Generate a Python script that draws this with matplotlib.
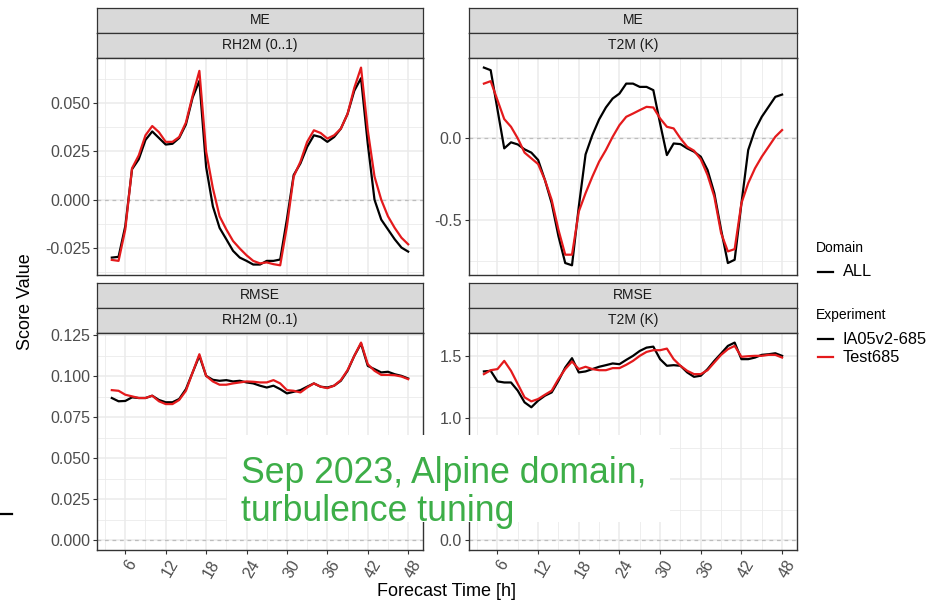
import matplotlib
matplotlib.use("Agg")
import matplotlib.pyplot as plt
from matplotlib.patches import Rectangle
from matplotlib.lines import Line2D
import matplotlib.transforms as mtransforms

plt.rcParams['font.family'] = ['Liberation Sans', 'DejaVu Sans']
plt.rcParams['axes.unicode_minus'] = False

# lead times [h]
lead_time = [4, 5, 6, 7, 8, 9, 10, 11, 12, 13, 14, 15, 16, 17, 18, 19, 20, 21, 22, 23, 24, 25,
             26, 27, 28, 29, 30, 31, 32, 33, 34, 35, 36, 37, 38, 39, 40, 41, 42, 43, 44, 45,
             46, 47, 48]
experiments = ["IA05v2-685", "Test685"]

# ME RH2M
me_rh2m_ia = [-0.0300, -0.0296, -0.0137, 0.0158, 0.0210, 0.0310, 0.0354, 0.0320, 0.0286,
              0.0290, 0.0320, 0.0390, 0.0530, 0.0616, 0.0170, -0.0034, -0.0146, -0.0205,
              -0.0265, -0.0300, -0.0317, -0.0336, -0.0336, -0.0317, -0.0317, -0.0310,
              -0.0100, 0.0128, 0.0188, 0.0274, 0.0334, 0.0325, 0.0300, 0.0325, 0.0368,
              0.0445, 0.0565, 0.0630, 0.0290, 0.0000, -0.0103, -0.0154, -0.0205, -0.0248,
              -0.0269]
me_rh2m_test = [-0.0312, -0.0317, -0.0154, 0.0163, 0.0230, 0.0334, 0.0382, 0.0350, 0.0300,
                0.0300, 0.0325, 0.0400, 0.0540, 0.0668, 0.0250, 0.0060, -0.0086, -0.0154,
                -0.0214, -0.0253, -0.0288, -0.0317, -0.0330, -0.0325, -0.0334, -0.0340,
                -0.0137, 0.0120, 0.0197, 0.0300, 0.0360, 0.0346, 0.0317, 0.0334, 0.0368,
                0.0445, 0.0580, 0.0685, 0.0360, 0.0120, 0.0000, -0.0086, -0.0146, -0.0197,
                -0.0231]

# ME T2M
me_t2m_ia = [0.431, 0.415, 0.175, -0.063, -0.026, -0.039, -0.069, -0.089, -0.134, -0.256,
             -0.398, -0.600, -0.764, -0.778, -0.420, -0.100, 0.018, 0.114, 0.187, 0.242,
             0.272, 0.333, 0.333, 0.313, 0.313, 0.293, 0.089, -0.104, -0.033, -0.037,
             -0.063, -0.083, -0.114, -0.195, -0.337, -0.561, -0.764, -0.744, -0.400,
             -0.073, 0.049, 0.130, 0.191, 0.252, 0.266]
me_t2m_test = [0.333, 0.348, 0.232, 0.116, 0.069, -0.002, -0.089, -0.124, -0.159, -0.256,
               -0.378, -0.561, -0.713, -0.713, -0.449, -0.337, -0.236, -0.144, -0.073,
               0.008, 0.079, 0.130, 0.150, 0.171, 0.191, 0.187, 0.120, 0.069, 0.059,
               -0.002, -0.053, -0.077, -0.130, -0.226, -0.358, -0.581, -0.693, -0.679,
               -0.398, -0.276, -0.185, -0.114, -0.053, 0.008, 0.049]

# RMSE RH2M
rmse_rh2m_ia = [0.0868, 0.0848, 0.0850, 0.0872, 0.0868, 0.0868, 0.0882, 0.0856, 0.0842,
                0.0842, 0.0862, 0.0922, 0.1024, 0.1125, 0.1003, 0.0979, 0.0973, 0.0977,
                0.0969, 0.0973, 0.0963, 0.0957, 0.0943, 0.0932, 0.0943, 0.0922, 0.0896,
                0.0906, 0.0916, 0.0937, 0.0957, 0.0937, 0.0932, 0.0943, 0.0973, 0.1034,
                0.1125, 0.1200, 0.1064, 0.1044, 0.1024, 0.1028, 0.1013, 0.1003, 0.0987]
rmse_rh2m_test = [0.0916, 0.0912, 0.0888, 0.0878, 0.0868, 0.0868, 0.0882, 0.0848, 0.0831,
                  0.0831, 0.0856, 0.0912, 0.1024, 0.1135, 0.1003, 0.0969, 0.0949, 0.0949,
                  0.0957, 0.0963, 0.0969, 0.0967, 0.0963, 0.0963, 0.0977, 0.0957, 0.0916,
                  0.0912, 0.0902, 0.0932, 0.0957, 0.0937, 0.0928, 0.0943, 0.0977, 0.1038,
                  0.1125, 0.1206, 0.1074, 0.1034, 0.1009, 0.1009, 0.1007, 0.0999, 0.0983]

# RMSE T2M
rmse_t2m_ia = [1.376, 1.381, 1.295, 1.286, 1.286, 1.219, 1.124, 1.084, 1.138, 1.178, 1.205,
               1.300, 1.408, 1.484, 1.368, 1.376, 1.395, 1.414, 1.427, 1.441, 1.435, 1.470,
               1.503, 1.543, 1.570, 1.578, 1.476, 1.422, 1.427, 1.422, 1.368, 1.332, 1.341,
               1.395, 1.462, 1.522, 1.584, 1.611, 1.476, 1.476, 1.489, 1.511, 1.516, 1.524,
               1.503]
rmse_t2m_test = [1.354, 1.386, 1.395, 1.462, 1.381, 1.273, 1.165, 1.132, 1.151, 1.186, 1.219,
                 1.314, 1.395, 1.457, 1.395, 1.414, 1.395, 1.386, 1.386, 1.403, 1.403, 1.430,
                 1.462, 1.503, 1.535, 1.549, 1.549, 1.562, 1.476, 1.422, 1.381, 1.354, 1.354,
                 1.386, 1.449, 1.511, 1.557, 1.584, 1.495, 1.500, 1.503, 1.503, 1.511, 1.511,
                 1.489]

x_ticks = [6, 12, 18, 24, 30, 36, 42, 48]
x_minor = [3, 9, 15, 21, 27, 33, 39, 45]
me_rh2m_yt = [-0.025, 0.0, 0.025, 0.05]
me_rh2m_yl = ["-0.025", "0.000", "0.025", "0.050"]
me_t2m_yt = [-0.5, 0.0]
me_t2m_yl = ["-0.5", "0.0"]
rmse_rh2m_yt = [0.0, 0.025, 0.05, 0.075, 0.1, 0.125]
rmse_rh2m_yl = ["0.000", "0.025", "0.050", "0.075", "0.100", "0.125"]
rmse_t2m_yt = [0.0, 0.5, 1.0, 1.5]
rmse_t2m_yl = ["0.0", "0.5", "1.0", "1.5"]

W, H = 929, 605
colors = ["black", "#E41A1C"]
BORDER = "#333333"
GRID = "#EBEBEB"
# white note box (pixels: left, top, right, bottom)
BOX = (227, 435, 670, 522)


def rect(x0, y0, x1, y1):
    return [x0 / W, 1 - y1 / H, (x1 - x0) / W, (y1 - y0) / H]


fig = plt.figure(figsize=(W / 100, H / 100), dpi=100)

panels = [
    ("ME", "RH2M (0..1)", me_rh2m_ia, me_rh2m_test, me_rh2m_yt, me_rh2m_yl, 97, 423, 8, False),
    ("ME", "T2M (K)", me_t2m_ia, me_t2m_test, me_t2m_yt, me_t2m_yl, 469, 797, 8, False),
    ("RMSE", "RH2M (0..1)", rmse_rh2m_ia, rmse_rh2m_test, rmse_rh2m_yt, rmse_rh2m_yl, 97, 423, 283, True),
    ("RMSE", "T2M (K)", rmse_t2m_ia, rmse_t2m_test, rmse_t2m_yt, rmse_t2m_yl, 469, 797, 283, True),
]

for score, param, ia, test, yt, yl, x0, x1, top, bottom_row in panels:
    # two strips
    for i, lab in enumerate([score, param]):
        sax = fig.add_axes(rect(x0, top + i * 24.8, x1, top + (i + 1) * 24.8))
        sax.set_facecolor("#D9D9D9")
        sax.set_xticks([])
        sax.set_yticks([])
        for s in sax.spines.values():
            s.set_color(BORDER)
            s.set_linewidth(0.9)
        sax.text(0.5, 0.5, lab, ha="center", va="center", fontsize=10, color="#1A1A1A",
                 transform=sax.transAxes)

    ax = fig.add_axes(rect(x0, top + 49.7, x1, top + 49.7 + 217.5))
    lo = min(min(ia), min(test))
    hi = max(max(ia), max(test))
    if score == "RMSE":
        lo = min(lo, 0.0)
    r = hi - lo
    ax.set_ylim(lo - 0.05 * r, hi + 0.05 * r)
    ax.set_xlim(4 - 0.05 * 44, 48 + 0.05 * 44)

    step = yt[1] - yt[0]
    ymin, ymax = ax.get_ylim()
    yminor = [yt[0] - step / 2] + [v + step / 2 for v in yt]
    yminor = [v for v in yminor if ymin < v < ymax]

    for v in x_minor:
        ax.axvline(v, color=GRID, lw=0.6, zorder=0)
    for v in yminor:
        ax.axhline(v, color=GRID, lw=0.6, zorder=0)
    for v in x_ticks:
        ax.axvline(v, color=GRID, lw=1.1, zorder=0)
    for v in yt:
        ax.axhline(v, color=GRID, lw=1.1, zorder=0)
    ax.axhline(0, color="#BDBDBD", lw=0.9, ls=(0, (3, 3)), zorder=1)

    ax.plot(lead_time, ia, color=colors[0], lw=1.6, zorder=3)
    ax.plot(lead_time, test, color=colors[1], lw=1.6, zorder=4)

    ax.set_yticks(yt)
    ylabs = ax.set_yticklabels(yl)
    ax.set_xticks(x_ticks)
    ax.tick_params(axis="both", length=3, width=0.8, color=BORDER, labelsize=11.5,
                   labelcolor="#4D4D4D", pad=2)
    # tick labels lying under the note box are hidden by it
    for v, lb in zip(yt, ylabs):
        ypix = H - ax.transData.transform((0, v))[1]
        if BOX[0] < x0 - 10 < BOX[2] and BOX[1] < ypix < BOX[3]:
            lb.set_visible(False)
    if bottom_row:
        labels = ax.set_xticklabels([str(t) for t in x_ticks], rotation=60,
                                    ha="center", va="top")
        off = mtransforms.ScaledTranslation(5 / 100, 0, fig.dpi_scale_trans)
        for lb in labels:
            lb.set_transform(lb.get_transform() + off)
    else:
        ax.tick_params(axis="x", bottom=False, labelbottom=False)
    for s in ax.spines.values():
        s.set_color(BORDER)
        s.set_linewidth(1.0)

# axis titles
fig.text(25.5 / W, 1 - 302 / H, "Score Value", rotation=90, ha="center", va="center",
         fontsize=13)
fig.text(447 / W, 1 - 592 / H, "Forecast Time [h]", ha="center", va="center", fontsize=13)

# legend
fig.text(816 / W, 1 - 248 / H, "Domain", ha="left", va="center", fontsize=10)
fig.add_artist(Line2D([818 / W, 833 / W], [1 - 271.5 / H] * 2, color="black", lw=1.6))
fig.text(843 / W, 1 - 271.5 / H, "ALL", ha="left", va="center", fontsize=11.8)
fig.text(816 / W, 1 - 315 / H, "Experiment", ha="left", va="center", fontsize=10)
for k, (name, c) in enumerate(zip(experiments, colors)):
    yy = 1 - (339 + 18 * k) / H
    fig.add_artist(Line2D([818 / W, 833 / W], [yy, yy], color=c, lw=1.6))
    fig.text(843 / W, yy, name, ha="left", va="center", fontsize=11.8)

# stray dash at left edge
fig.add_artist(Line2D([0, 12 / W], [1 - 514 / H] * 2, color="black", lw=1.6))

# overlay box with note
box = Rectangle((BOX[0] / W, 1 - BOX[3] / H), (BOX[2] - BOX[0]) / W, (BOX[3] - BOX[1]) / H,
                transform=fig.transFigure, facecolor="white", edgecolor="none", zorder=5)
fig.add_artist(box)
fig.text(241 / W, 1 - 521 / H, "Sep 2023, Alpine domain,\nturbulence tuning",
         ha="left", va="baseline", fontsize=25.7, color="#3DAE48", linespacing=1.1,
         zorder=6)

fig.savefig("out.png", dpi=100)
